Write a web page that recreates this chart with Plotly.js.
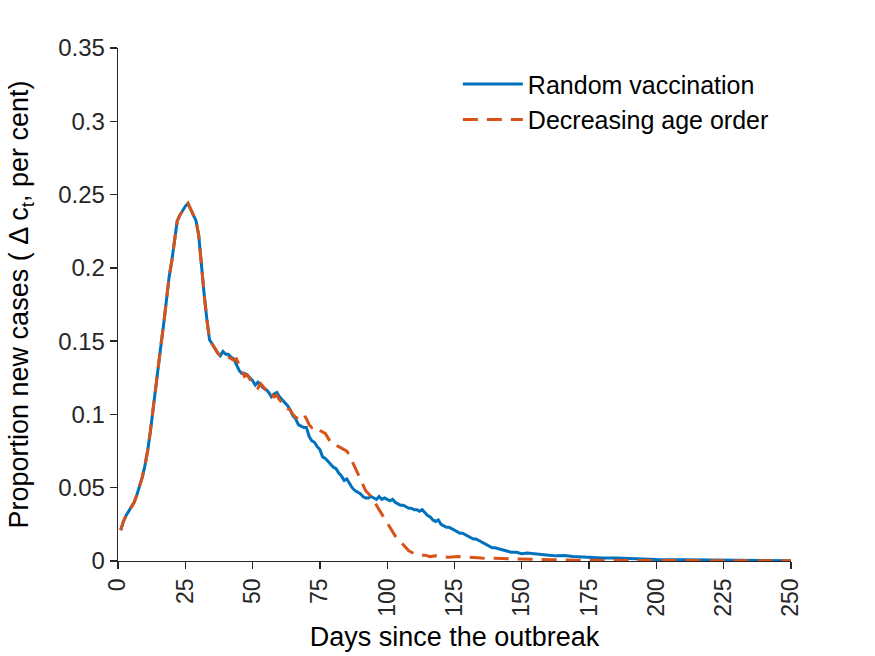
<!DOCTYPE html>
<html>
<head>
<meta charset="utf-8">
<script src="https://cdn.plot.ly/plotly-3.0.1.min.js"></script>
<style>
  html, body { margin: 0; padding: 0; background: #fff; }
  #chart { width: 875px; height: 656px; }
</style>
</head>
<body>
<div id="chart"></div>
<script>
// daily values, day 1..140 (random vaccination)
const randomDaily = [
  0.021, 0.027, 0.031, 0.034, 0.037, 0.040, 0.045, 0.051, 0.057, 0.065,
  0.075, 0.088, 0.104, 0.119, 0.134, 0.148, 0.162, 0.178, 0.194, 0.205,
  0.219, 0.232, 0.236, 0.239, 0.242, 0.244, 0.240, 0.236, 0.232, 0.222,
  0.199, 0.182, 0.165, 0.151, 0.148, 0.145, 0.142, 0.140, 0.143, 0.141,
  0.141, 0.139, 0.138, 0.134, 0.130, 0.128, 0.128, 0.127, 0.125, 0.123,
  0.120, 0.122, 0.120, 0.118, 0.117, 0.115, 0.112, 0.114, 0.115, 0.112,
  0.110, 0.108, 0.106, 0.103, 0.099, 0.097, 0.093, 0.092, 0.091, 0.091,
  0.085, 0.082, 0.081, 0.078, 0.076, 0.071, 0.070, 0.068, 0.066, 0.064,
  0.063, 0.060, 0.058, 0.055, 0.056, 0.053, 0.050, 0.048, 0.047, 0.046,
  0.044, 0.043, 0.043, 0.044, 0.043, 0.042, 0.044, 0.042, 0.043, 0.042,
  0.041, 0.042, 0.040, 0.039, 0.038, 0.038, 0.037, 0.036, 0.036, 0.035,
  0.035, 0.034, 0.035, 0.033, 0.031, 0.030, 0.028, 0.027, 0.028, 0.025,
  0.024, 0.023, 0.023, 0.022, 0.021, 0.020, 0.019, 0.019, 0.018, 0.017,
  0.016, 0.015, 0.015, 0.014, 0.013, 0.012, 0.011, 0.010, 0.009, 0.009
];
const randomTailDays = [142, 144, 146, 148, 150, 152, 154, 156, 158, 160, 163, 166, 169, 172, 176, 180, 185, 190, 195, 200, 210, 220, 230, 240, 250];
const randomTailVals = [0.008, 0.007, 0.006, 0.006, 0.005, 0.0055, 0.005, 0.0045, 0.004, 0.004, 0.0035, 0.0038, 0.003, 0.0027, 0.0025, 0.002, 0.002, 0.0015, 0.0013, 0.001, 0.0008, 0.0005, 0.0004, 0.0003, 0.0002];

// daily values, day 1..110 (decreasing age order)
const ageDaily = [
  0.021, 0.027, 0.031, 0.034, 0.037, 0.040, 0.045, 0.051, 0.057, 0.065,
  0.075, 0.088, 0.104, 0.119, 0.134, 0.148, 0.162, 0.178, 0.194, 0.205,
  0.219, 0.232, 0.236, 0.239, 0.242, 0.244, 0.240, 0.236, 0.232, 0.222,
  0.199, 0.182, 0.165, 0.151, 0.148, 0.145, 0.142, 0.140, 0.139, 0.138,
  0.139, 0.138, 0.137, 0.138, 0.134, 0.129, 0.126, 0.127, 0.124, 0.122,
  0.120, 0.118, 0.121, 0.119, 0.116, 0.117, 0.114, 0.112, 0.113, 0.110,
  0.108, 0.107, 0.104, 0.103, 0.100, 0.098, 0.097, 0.098, 0.100, 0.097,
  0.093, 0.091, 0.092, 0.090, 0.089, 0.088, 0.087, 0.084, 0.081, 0.079,
  0.079, 0.078, 0.077, 0.076, 0.075, 0.072, 0.068, 0.064, 0.060, 0.056,
  0.052, 0.048, 0.046, 0.044, 0.041, 0.038, 0.035, 0.032, 0.029, 0.026,
  0.023, 0.020, 0.017, 0.015, 0.013, 0.011, 0.009, 0.007, 0.006, 0.005
];
const ageTailDays = [112, 114, 116, 118, 120, 123, 126, 130, 135, 140, 145, 150, 160, 170, 180, 200, 225, 250];
const ageTailVals = [0.004, 0.004, 0.003, 0.0035, 0.003, 0.0025, 0.003, 0.0025, 0.002, 0.0018, 0.0015, 0.0012, 0.0008, 0.0005, 0.0004, 0.0002, 0.0001, 0.0001];

const xTicks = [0, 25, 50, 75, 100, 125, 150, 175, 200, 225, 250];
const yTicks = [0, 0.05, 0.1, 0.15, 0.2, 0.25, 0.3, 0.35];
const yTickText = ['0', '0.05', '0.1', '0.15', '0.2', '0.25', '0.3', '0.35'];

function dayIndex(n) {
    const d = [];
    for (let i = 1; i <= n; i++) d.push(i);
    return d;
}

const ink = '#262626';
const font = 'Liberation Sans, Arial, sans-serif';

const traces = [
    {
        x: dayIndex(randomDaily.length).concat(randomTailDays),
        y: randomDaily.concat(randomTailVals),
        type: 'scatter',
        mode: 'lines',
        name: 'Random vaccination',
        line: { color: '#0072BD', width: 3 }
    },
    {
        x: dayIndex(ageDaily.length).concat(ageTailDays),
        y: ageDaily.concat(ageTailVals),
        type: 'scatter',
        mode: 'lines',
        name: 'Decreasing age order',
        line: { color: '#D95319', width: 3, dash: '15px,9px' }
    }
];

const layout = {
    width: 875,
    height: 656,
    margin: { l: 118, r: 84, t: 48, b: 95 },
    paper_bgcolor: '#fff',
    plot_bgcolor: '#fff',
    font: { family: font, color: ink, size: 24 },
    xaxis: {
        range: [0, 250],
        tickvals: xTicks,
        tickangle: -90,
        ticks: 'outside',
        ticklen: 7,
        tickwidth: 1.3,
        tickcolor: ink,
        showline: true,
        linecolor: ink,
        linewidth: 1.3,
        showgrid: false,
        zeroline: false,
        tickfont: { size: 23, color: ink },
        title: { text: 'Days since the outbreak', font: { size: 27, color: '#000' }, standoff: 11 }
    },
    yaxis: {
        range: [0, 0.35],
        tickvals: yTicks,
        ticktext: yTickText,
        ticks: 'outside',
        ticklen: 7,
        tickwidth: 1.3,
        tickcolor: ink,
        showline: true,
        linecolor: ink,
        linewidth: 1.3,
        showgrid: false,
        zeroline: false,
        tickfont: { size: 24, color: ink },
        title: { text: 'Proportion new cases ( Δ c<sub>t</sub>, per cent)', font: { size: 27, color: '#000' }, standoff: 21 }
    },
    legend: {
        x: 0.505,
        y: 0.974,
        xanchor: 'left',
        yanchor: 'top',
        itemwidth: 60,
        bgcolor: 'rgba(0,0,0,0)',
        font: { size: 25, color: '#000' }
    },
    showlegend: true
};

Plotly.newPlot('chart', traces, layout, { displayModeBar: false, staticPlot: true });
</script>
</body>
</html>
